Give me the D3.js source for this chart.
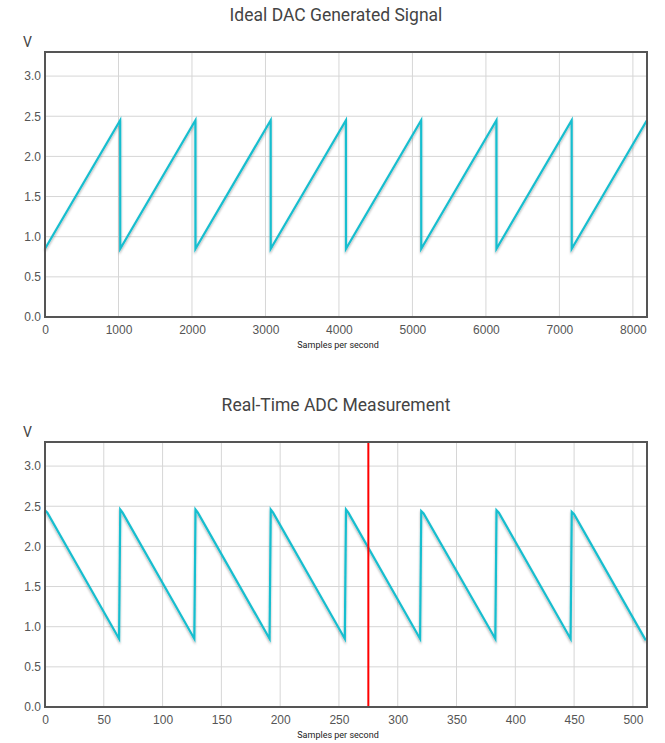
<!DOCTYPE html>
<html><head><meta charset="utf-8">
<script src="https://cdn.jsdelivr.net/npm/d3@7"></script>
<style>
body{margin:0;background:#fff;font-family:Roboto,sans-serif;}
.grid line{stroke:#d6d6d6;}
.tick text{fill:#555;font-size:12px;}
</style></head><body>
<script>
// ideal DAC sawtooth vertices
var dacX = [0,1023,1024,2047,2048,3071,3072,4095,4096,5119,5120,6143,6144,7167,7168,8191];
var dacV = [0.85,2.45,0.85,2.45,0.85,2.45,0.85,2.45,0.85,2.45,0.85,2.45,0.85,2.45,0.85,2.45];
// measured ADC vertices (falling sawtooth)
var adcX = [0,2,63,64,66,127,128,130,191,192,194,255,256,258,319,320,322,383,384,386,447,448,450,511];
var adcV = [2.45,2.42,0.85,2.46,2.42,0.85,2.46,2.42,0.85,2.46,2.42,0.85,2.46,2.42,0.85,2.44,2.41,0.85,2.45,2.42,0.85,2.43,2.40,0.83];
var yTicks = [0,0.5,1,1.5,2,2.5,3];
var markerX = 275;

var W = 665, H = 743;
var svg = d3.select("body").append("svg").attr("width", W).attr("height", H);
var defs = svg.append("defs");
defs.append("filter").attr("id","sh").html('<feDropShadow dx="0" dy="2" stdDeviation="1" flood-color="#000" flood-opacity="0.3"/>');

function chart(top, title, xs, vs, xMax, xTicks, marker){
    var left = 45, right = 647, t = top + 52, b = top + 317;
    var x = d3.scaleLinear().domain([0, xMax]).range([left, right]);
    var y = d3.scaleLinear().domain([0, 3.3]).range([b, t]);
    var g = svg.append("g");
    g.append("text").attr("x", 336).attr("y", top + 21).attr("text-anchor","middle")
        .attr("font-size", 17.5).attr("fill","#444").text(title);
    g.append("text").attr("x", 23).attr("y", top + 47).attr("font-size", 14).attr("fill","#444").text("V");
    g.append("g").attr("class","grid").selectAll("line").data(xTicks).enter().append("line")
        .attr("x1", d=>x(d)).attr("x2", d=>x(d)).attr("y1", t).attr("y2", b);
    g.append("g").attr("class","grid").selectAll("line").data(yTicks).enter().append("line")
        .attr("x1", left).attr("x2", right).attr("y1", d=>y(d)).attr("y2", d=>y(d));
    var xa = g.append("g").attr("transform","translate(0,"+b+")")
        .call(d3.axisBottom(x).tickValues(xTicks).tickSize(0).tickPadding(8).tickFormat(d3.format("d")));
    xa.select(".domain").remove();
    var ya = g.append("g").attr("transform","translate("+left+",0)")
        .call(d3.axisLeft(y).tickValues(yTicks).tickSize(0).tickPadding(4).tickFormat(d3.format(".1f")));
    ya.select(".domain").remove();
    g.append("text").attr("x", 338).attr("y", b + 31).attr("text-anchor","middle")
        .attr("font-size", 9).attr("fill","#222").text("Samples per second");
    var pts = xs.map((d,i)=>[d, vs[i]]);
    g.append("path").datum(pts).attr("fill","none").attr("stroke","#17becf").attr("stroke-width",2.2)
        .attr("filter","url(#sh)")
        .attr("d", d3.line().x(d=>x(d[0])).y(d=>y(d[1])));
    if (marker != null){
        g.append("line").attr("x1", x(marker)).attr("x2", x(marker)).attr("y1", t).attr("y2", b)
            .attr("stroke","#f00").attr("stroke-width",2);
    }
    g.append("rect").attr("x", left).attr("y", t).attr("width", right-left).attr("height", b-t)
        .attr("fill","none").attr("stroke","#555").attr("stroke-width",2);
}
chart(0, "Ideal DAC Generated Signal", dacX, dacV, 8192, d3.range(0, 8001, 1000), null);
chart(390, "Real-Time ADC Measurement", adcX, adcV, 512, d3.range(0, 501, 50), markerX);
</script></body></html>
